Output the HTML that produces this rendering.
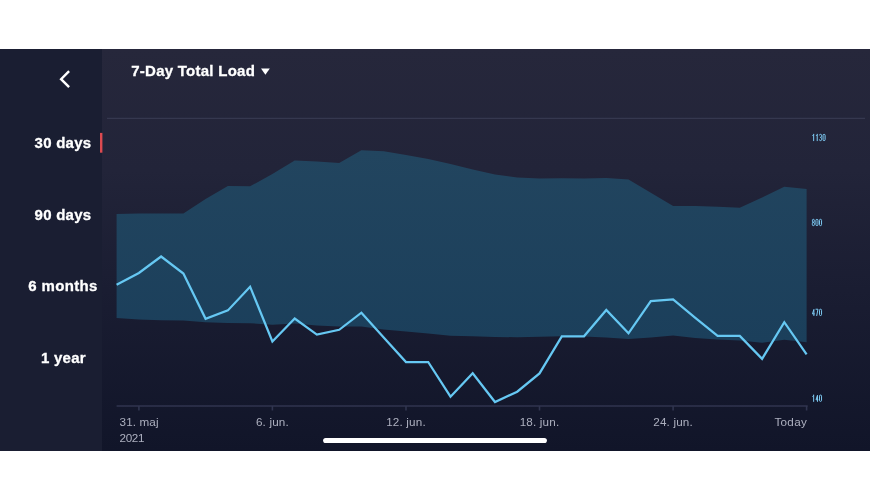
<!DOCTYPE html>
<html><head><meta charset="utf-8"><title>7-Day Total Load</title>
<style>
html,body{margin:0;padding:0;background:#fff;}
body{width:870px;height:500px;position:relative;overflow:hidden;font-family:"Liberation Sans",sans-serif;}
#panel{position:absolute;left:0;top:49px;width:870px;height:401.5px;background:linear-gradient(to bottom,#26273b 0%,#222439 30%,#1a1d32 60%,#111529 100%);}
#side{position:absolute;left:0;top:49px;width:101.6px;height:401.5px;background:#1a1e32;}
.lbl{-webkit-text-stroke:0.3px #fff;position:absolute;left:13px;width:100px;text-align:center;color:#fff;font-weight:bold;font-size:15px;line-height:18px;white-space:nowrap;}
#title{-webkit-text-stroke:0.3px #fff;position:absolute;left:131.2px;top:62px;color:#fff;font-weight:bold;font-size:15px;line-height:18px;white-space:nowrap;letter-spacing:0.26px;}
.xl{position:absolute;top:414.9px;width:80px;text-align:center;color:#adb0bf;font-size:11.7px;line-height:14px;white-space:nowrap;letter-spacing:0.17px;}
svg{position:absolute;left:0;top:0;}
#wrap{position:absolute;left:0;top:0;width:870px;height:500px;will-change:transform;}
</style></head><body>
<div id="wrap">
<div id="panel"></div>
<div id="side"></div>
<div id="title">7-Day Total Load</div>
<div class="lbl" style="top:134px;letter-spacing:0.25px">30 days</div>
<div class="lbl" style="top:206px;letter-spacing:0.25px">90 days</div>
<div class="lbl" style="top:277.3px;letter-spacing:0.33px">6 months</div>
<div class="lbl" style="top:348.8px;left:13.4px;letter-spacing:0.25px">1 year</div>
<svg width="870" height="500" viewBox="0 0 870 500">
<defs><linearGradient id="bg" x1="0" y1="150" x2="0" y2="343" gradientUnits="userSpaceOnUse"><stop offset="0" stop-color="#22455f"/><stop offset="1" stop-color="#1b3f5b"/></linearGradient></defs>
<polyline points="69.1,71.2 61.1,79.2 69.1,87.2" fill="none" stroke="#fff" stroke-width="2.4" stroke-linejoin="miter"/>
<polygon points="261,68.6 269.8,68.6 265.4,74.8" fill="#fff"/>
<rect x="107" y="117.8" width="758" height="1" fill="#3b3e55"/>
<rect x="100.0" y="132.9" width="2.4" height="19.8" fill="#dc4a50"/>
<polygon points="116.6,214.1 138.9,213.4 161.1,213.4 183.4,213.4 205.6,199.0 227.9,185.9 250.1,186.3 272.4,173.9 294.7,160.4 316.9,161.5 339.2,162.9 361.4,150.2 383.7,151.2 406.0,154.9 428.2,159.0 450.5,164.0 472.7,169.5 495.0,174.4 517.2,177.6 539.5,178.5 561.8,178.3 584.0,178.5 606.3,178.0 628.5,179.5 650.8,192.7 673.1,205.9 695.3,206.1 717.6,206.8 739.8,207.8 762.1,197.6 784.3,186.8 806.6,189.0 806.6,342.2 784.3,339.8 762.1,342.7 739.8,340.5 717.6,339.5 695.3,338.0 673.1,335.6 650.8,337.5 628.5,339.0 606.3,337.5 584.0,336.5 561.8,336.3 539.5,336.8 517.2,337.2 495.0,337.0 472.7,336.3 450.5,335.8 428.2,333.5 406.0,331.5 383.7,329.5 361.4,326.6 339.2,326.4 316.9,325.6 294.7,323.6 272.4,324.8 250.1,323.2 227.9,323.0 205.6,322.3 183.4,320.6 161.1,320.3 138.9,319.5 116.6,318.1" fill="url(#bg)"/>
<polyline points="116.6,284.7 138.9,273.0 161.1,256.5 183.4,273.5 205.6,318.8 227.9,310.4 250.1,286.7 272.4,341.5 294.7,318.5 316.9,334.6 339.2,329.8 361.4,312.7 383.7,337.6 406.0,362.0 428.2,362.0 450.5,396.7 472.7,373.2 495.0,402.0 517.2,391.7 539.5,373.4 561.8,336.3 584.0,336.3 606.3,310.0 628.5,333.3 650.8,301.2 673.1,299.5 695.3,317.8 717.6,335.9 739.8,335.9 762.1,358.8 784.3,322.2 806.6,354.3" fill="none" stroke="#66c8f3" stroke-width="2.25" stroke-linejoin="miter" stroke-linecap="butt"/>
<g stroke="#30354f" stroke-width="1.6"><line x1="116.6" y1="406.05" x2="807.7" y2="406.05"/><line x1="138.9" y1="406" x2="138.9" y2="410.5" /><line x1="272.4" y1="406" x2="272.4" y2="410.5" /><line x1="406.0" y1="406" x2="406.0" y2="410.5" /><line x1="539.5" y1="406" x2="539.5" y2="410.5" /><line x1="673.1" y1="406" x2="673.1" y2="410.5" /><line x1="806.6" y1="406" x2="806.6" y2="410.5" /></g>
<rect x="323.1" y="437.9" width="223.8" height="5.1" rx="2.55" fill="#fff"/>
<g fill="none" stroke="#7fcdf6" stroke-width="0.98" stroke-linejoin="round"><g transform="translate(812.35,134.32)"><path d="M0.15,1.55 L1.3,0.35 M1.3,-0.45 V6.75"/></g><g transform="translate(815.92,134.32)"><path d="M0.15,1.55 L1.3,0.35 M1.3,-0.45 V6.75"/></g><g transform="translate(819.49,134.32)"><path d="M0,1.1 V0.95 Q0,0 1.025,0 Q2.05,0 2.05,0.95 V2.15 Q2.05,3.05 0.9,3.05 Q2.05,3.05 2.05,3.95 V5.35 Q2.05,6.3 1.025,6.3 Q0,6.3 0,5.35 V5.1"/></g><g transform="translate(823.06,134.32)"><rect x="0" y="0" width="2.05" height="6.3" rx="1.0" ry="1.05"/></g><g transform="translate(812.35,219.32)"><rect x="0.1" y="0" width="1.8499999999999999" height="3.0" rx="0.9"/><rect x="0" y="3.0" width="2.05" height="3.3" rx="0.95"/></g><g transform="translate(815.92,219.32)"><rect x="0" y="0" width="2.05" height="6.3" rx="1.0" ry="1.05"/></g><g transform="translate(819.49,219.32)"><rect x="0" y="0" width="2.05" height="6.3" rx="1.0" ry="1.05"/></g><g transform="translate(812.35,309.22)"><path d="M1.55,6.75 V0.2 L0.1,4.7 H2.4"/></g><g transform="translate(815.92,309.22)"><path d="M-0.35,0 H2.05 L0.75,6.75"/></g><g transform="translate(819.49,309.22)"><rect x="0" y="0" width="2.05" height="6.3" rx="1.0" ry="1.05"/></g><g transform="translate(812.35,395.07)"><path d="M0.15,1.55 L1.3,0.35 M1.3,-0.45 V6.75"/></g><g transform="translate(815.92,395.07)"><path d="M1.55,6.75 V0.2 L0.1,4.7 H2.4"/></g><g transform="translate(819.49,395.07)"><rect x="0" y="0" width="2.05" height="6.3" rx="1.0" ry="1.05"/></g></g>
</svg>
<div class="xl" style="left:119.6px;text-align:left;letter-spacing:0.1px">31. maj<br><span style="position:relative;top:2px;letter-spacing:-0.38px">2021</span></div>
<div class="xl" style="left:232.4px">6. jun.</div>
<div class="xl" style="left:366.0px">12. jun.</div>
<div class="xl" style="left:499.5px">18. jun.</div>
<div class="xl" style="left:633.1px">24. jun.</div>
<div class="xl" style="left:727.1px;text-align:right;letter-spacing:0.3px">Today</div>
</div>
</body></html>
